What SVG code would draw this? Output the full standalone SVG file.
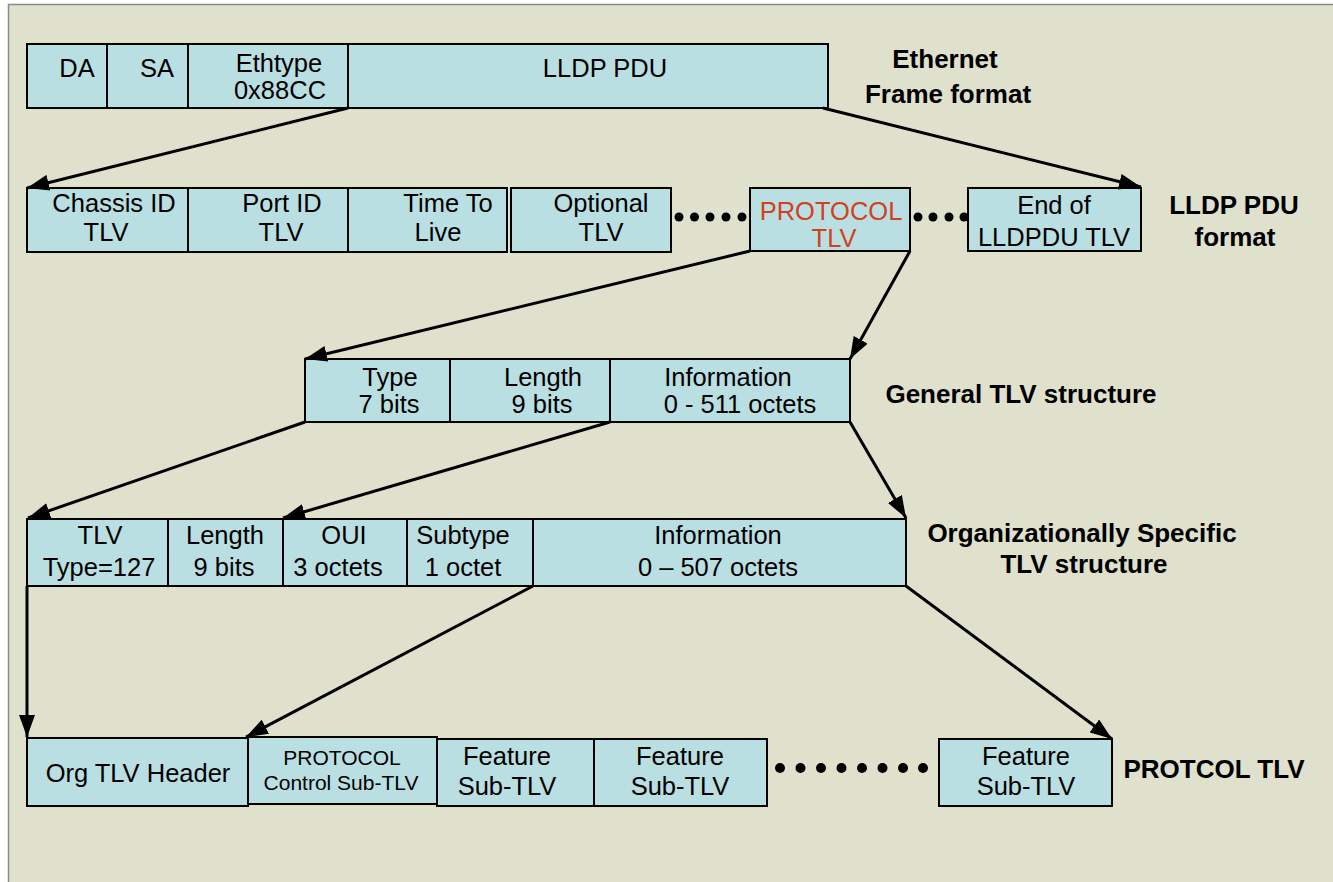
<svg xmlns="http://www.w3.org/2000/svg" width="1333" height="882" viewBox="0 0 1333 882">
<style>
.bx{fill:#b9dfe3;stroke:#000;stroke-width:2}
.t{font-family:"Liberation Sans",Arial,sans-serif;font-size:25.5px;fill:#000;text-anchor:middle}
.s{font-family:"Liberation Sans",Arial,sans-serif;font-size:21px;fill:#000;text-anchor:middle}
.r{fill:#d4401b}
.lb{font-family:"Liberation Sans",Arial,sans-serif;font-size:26px;font-weight:bold;fill:#000;text-anchor:middle}
.c{stroke:#000;stroke-width:3;fill:none;marker-end:url(#ah)}
.d{fill:#000}
</style>
<defs>
<marker id="ah" markerUnits="userSpaceOnUse" markerWidth="22" markerHeight="16" refX="22" refY="8" orient="auto" viewBox="0 0 22 16">
<path d="M0,0 L22,8 L0,16 z" fill="#000"/>
</marker>
</defs>
<rect x="0" y="0" width="1333" height="882" fill="#fff"/>
<rect x="8.5" y="4.5" width="1330" height="890" fill="#dfe1cd" stroke="#8a8a8a" stroke-width="1.5"/>

<g id="row1">
<g id="da"><rect class="bx" x="27" y="44" width="80" height="64"/><text class="t" x="77" y="77">DA</text></g>
<g id="sa"><rect class="bx" x="107" y="44" width="81" height="64"/><text class="t" x="157" y="77">SA</text></g>
<g id="ethtype"><rect class="bx" x="188" y="44" width="160" height="64"/><text class="t" x="279" y="72">Ethtype</text><text class="t" x="280" y="99">0x88CC</text></g>
<g id="lldppdu"><rect class="bx" x="348" y="44" width="480" height="64"/><text class="t" x="605" y="77">LLDP PDU</text></g>
<g id="lbl-eth"><text class="lb" x="945" y="68">Ethernet</text><text class="lb" x="948" y="103">Frame format</text></g>
</g>

<g id="row2">
<g id="chassis"><rect class="bx" x="27" y="188" width="161" height="64"/><text class="t" x="114" y="212">Chassis ID</text><text class="t" x="106" y="241">TLV</text></g>
<g id="portid"><rect class="bx" x="188" y="188" width="160" height="64"/><text class="t" x="282" y="212">Port ID</text><text class="t" x="281" y="241">TLV</text></g>
<g id="ttl"><rect class="bx" x="348" y="188" width="159" height="64"/><text class="t" x="448" y="212">Time To</text><text class="t" x="438" y="241">Live</text></g>
<g id="optional"><rect class="bx" x="511" y="188" width="160" height="64"/><text class="t" x="601" y="212">Optional</text><text class="t" x="601" y="241">TLV</text></g>
<g id="protocol"><rect class="bx" x="750" y="188" width="160" height="63"/><text class="t r" x="831" y="220">PROTOCOL</text><text class="t r" x="834" y="247">TLV</text></g>
<g id="endtlv"><rect class="bx" x="968" y="188" width="173" height="63"/><text class="t" x="1054" y="214">End of</text><text class="t" x="1054" y="246">LLDPDU TLV</text></g>
<g id="dots2">
<circle class="d" cx="679" cy="217" r="4.5"/><circle class="d" cx="694.5" cy="217" r="4.5"/><circle class="d" cx="710" cy="217" r="4.5"/><circle class="d" cx="726" cy="217" r="4.5"/><circle class="d" cx="742" cy="217" r="4.5"/>
<circle class="d" cx="918" cy="217" r="4.5"/><circle class="d" cx="933" cy="217" r="4.5"/><circle class="d" cx="949" cy="217" r="4.5"/><circle class="d" cx="964" cy="217" r="4.5"/>
</g>
<g id="lbl-pdu"><text class="lb" x="1234" y="214">LLDP PDU</text><text class="lb" x="1235" y="246">format</text></g>
</g>

<g id="row3">
<g id="type"><rect class="bx" x="305" y="359" width="145" height="63"/><text class="t" x="390" y="386">Type</text><text class="t" x="389" y="413">7 bits</text></g>
<g id="length"><rect class="bx" x="450" y="359" width="160" height="63"/><text class="t" x="543" y="386">Length</text><text class="t" x="542" y="413">9 bits</text></g>
<g id="info"><rect class="bx" x="610" y="359" width="240" height="63"/><text class="t" x="728" y="386">Information</text><text class="t" x="740" y="413">0 - 511 octets</text></g>
<g id="lbl-gen"><text class="lb" x="1021" y="403">General TLV structure</text></g>
</g>

<g id="row4">
<g id="tlv127"><rect class="bx" x="27" y="519" width="141" height="67"/><text class="t" x="100" y="544">TLV</text><text class="t" x="99" y="576">Type=127</text></g>
<g id="len4"><rect class="bx" x="168" y="519" width="115" height="67"/><text class="t" x="225" y="544">Length</text><text class="t" x="224" y="576">9 bits</text></g>
<g id="oui"><rect class="bx" x="283" y="519" width="124" height="67"/><text class="t" x="344" y="544">OUI</text><text class="t" x="338" y="576">3 octets</text></g>
<g id="subtype"><rect class="bx" x="407" y="519" width="126" height="67"/><text class="t" x="463" y="544">Subtype</text><text class="t" x="463" y="576">1 octet</text></g>
<g id="info4"><rect class="bx" x="533" y="519" width="373" height="67"/><text class="t" x="718" y="544">Information</text><text class="t" x="718" y="576">0 – 507 octets</text></g>
<g id="lbl-org"><text class="lb" x="1082" y="542">Organizationally Specific</text><text class="lb" x="1084" y="573">TLV structure</text></g>
</g>

<g id="row5">
<g id="orghdr"><rect class="bx" x="27" y="738" width="221" height="68"/><text class="t" x="138" y="782">Org TLV Header</text></g>
<g id="ctrl"><rect class="bx" x="248" y="737" width="189" height="67"/><text class="s" x="342" y="765">PROTOCOL</text><text class="s" x="341" y="790">Control Sub-TLV</text></g>
<g id="feat1"><rect class="bx" x="437" y="739" width="157" height="67"/><text class="t" x="507" y="765">Feature</text><text class="t" x="507" y="795">Sub-TLV</text></g>
<g id="feat2"><rect class="bx" x="594" y="739" width="173" height="67"/><text class="t" x="680" y="765">Feature</text><text class="t" x="680" y="795">Sub-TLV</text></g>
<g id="feat3"><rect class="bx" x="939" y="739" width="173" height="67"/><text class="t" x="1026" y="765">Feature</text><text class="t" x="1026" y="795">Sub-TLV</text></g>
<g id="dots5">
<circle class="d" cx="780" cy="768" r="5"/><circle class="d" cx="800.5" cy="768" r="5"/><circle class="d" cx="821" cy="768" r="5"/><circle class="d" cx="841.5" cy="768" r="5"/><circle class="d" cx="862" cy="768" r="5"/><circle class="d" cx="882.5" cy="768" r="5"/><circle class="d" cx="903" cy="768" r="5"/><circle class="d" cx="923" cy="768" r="5"/>
</g>
<g id="lbl-prot"><text class="lb" x="1214" y="778">PROTCOL TLV</text></g>
</g>

<g id="connectors">
<line class="c" x1="348" y1="108" x2="27" y2="188"/>
<line class="c" x1="823" y1="108" x2="1141" y2="187"/>
<line class="c" x1="750" y1="251" x2="305" y2="359"/>
<line class="c" x1="910" y1="251" x2="850" y2="359"/>
<line class="c" x1="305" y1="422" x2="28" y2="518"/>
<line class="c" x1="610" y1="422" x2="283" y2="518"/>
<line class="c" x1="850" y1="422" x2="906" y2="518"/>
<line class="c" x1="27" y1="586" x2="27" y2="737"/>
<line class="c" x1="533" y1="586" x2="246" y2="737"/>
<line class="c" x1="906" y1="586" x2="1112" y2="739"/>
</g>
</svg>
